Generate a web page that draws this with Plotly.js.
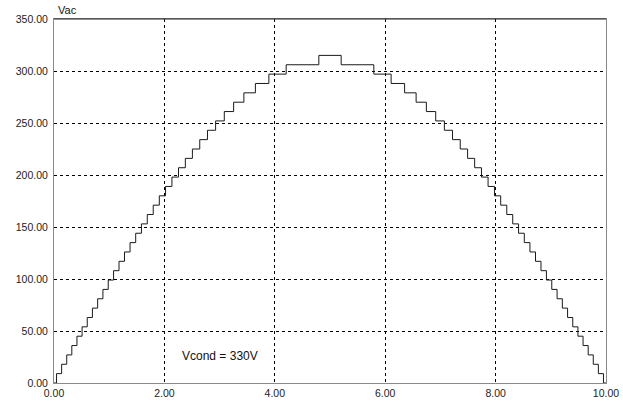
<!DOCTYPE html>
<html>
<head>
<meta charset="utf-8">
<script src="https://cdn.plot.ly/plotly-3.0.1.min.js"></script>
<style>
  html, body { margin: 0; padding: 0; background: #fff; }
  #chart { width: 623px; height: 404px; }
</style>
</head>
<body>
<div id="chart"></div>
<script>
// Rising half of the staircase: time at which each level starts
const riseTimes = [0, 0.0460, 0.1382, 0.2304, 0.3228, 0.4155, 0.5086, 0.6021, 0.6961, 0.7908,
  0.8861, 0.9822, 1.0795, 1.1777, 1.2770, 1.3777, 1.4799, 1.5838, 1.6896, 1.7975,
  1.9077, 2.0206, 2.1365, 2.2559, 2.3793, 2.5073, 2.6406, 2.7804, 2.9279, 3.0850,
  3.2543, 3.4399, 3.6485, 3.8930, 4.2061, 4.7977];
const riseLevels = [0, 9, 18, 27, 36, 45, 54, 63, 72, 81,
  90, 99, 108, 117, 126, 135, 144, 153, 162, 171,
  180, 189, 198, 207, 216, 225, 234, 243, 252, 261,
  270, 279, 288, 297, 306, 315];
// Falling half of the staircase
const fallTimes = [5.2023, 5.7939, 6.1070, 6.3515, 6.5601, 6.7457, 6.9150, 7.0721, 7.2196, 7.3594,
  7.4927, 7.6207, 7.7441, 7.8635, 7.9794, 8.0923, 8.2025, 8.3104, 8.4162, 8.5201,
  8.6223, 8.7230, 8.8223, 8.9205, 9.0178, 9.1139, 9.2092, 9.3039, 9.3979, 9.4914,
  9.5845, 9.6772, 9.7696, 9.8618, 9.9540, 10.0];
const fallLevels = [306, 297, 288, 279, 270, 261, 252, 243, 234, 225,
  216, 207, 198, 189, 180, 171, 162, 153, 144, 135,
  126, 117, 108, 99, 90, 81, 72, 63, 54, 45,
  36, 27, 18, 9, 0, 0];

const xTickVals = [0, 2, 4, 6, 8, 10];
const yTickVals = [0, 50, 100, 150, 200, 250, 300, 350];

const xs = riseTimes.concat(fallTimes);
const ys = riseLevels.concat(fallLevels);

const trace = {
  x: xs, y: ys, type: 'scatter', mode: 'lines',
  line: { shape: 'hv', color: '#1a1a1a', width: 1 },
  hoverinfo: 'skip'
};

const tickFont = { family: 'Liberation Sans, Arial, sans-serif', size: 10.5, color: '#222' };

const layout = {
  width: 623, height: 404,
  margin: { l: 54, r: 17, t: 19, b: 21 },
  paper_bgcolor: '#fff', plot_bgcolor: '#fff',
  showlegend: false,
  xaxis: {
    range: [0, 10], tickvals: xTickVals, tickformat: '.2f',
    showgrid: true, gridcolor: '#000', gridwidth: 1, griddash: 'dot',
    zeroline: false, showline: true, linecolor: '#8a8a8a', linewidth: 1, mirror: true,
    ticks: '', tickfont: tickFont, fixedrange: true
  },
  yaxis: {
    range: [0, 350], tickvals: yTickVals, tickformat: '.2f',
    showgrid: true, gridcolor: '#000', gridwidth: 1, griddash: 'dot',
    zeroline: false, showline: true, linecolor: '#8a8a8a', linewidth: 1, mirror: true,
    ticks: '', tickfont: tickFont, fixedrange: true, ticklabelstandoff: 3
  },
  shapes: [
    { type: 'line', xref: 'paper', yref: 'paper', x0: 0, x1: 1, y0: 1, y1: 1,
      line: { color: '#222', width: 1 } }
  ],
  annotations: [
    { text: 'Vac', xref: 'paper', yref: 'paper', x: 0, y: 1, xanchor: 'left', yanchor: 'bottom',
      xshift: 2, yshift: 1, showarrow: false,
      font: { family: 'Liberation Sans, Arial, sans-serif', size: 11, color: '#111' } },
    { text: 'Vcond = 330V', xref: 'x', yref: 'y', x: 3.0, y: 25.5, xanchor: 'center', yanchor: 'middle',
      showarrow: false,
      font: { family: 'Liberation Sans, Arial, sans-serif', size: 12, color: '#111' } }
  ]
};

Plotly.newPlot('chart', [trace], layout, { staticPlot: true, displayModeBar: false });
</script>
</body>
</html>
